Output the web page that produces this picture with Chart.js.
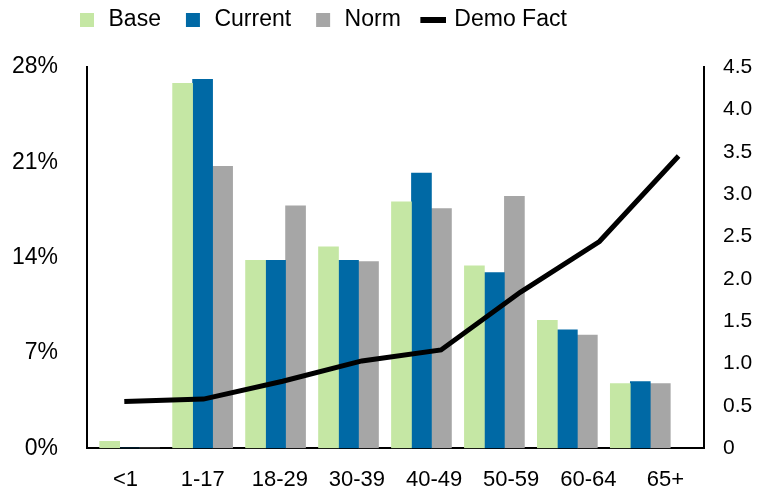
<!DOCTYPE html>
<html>
<head>
<meta charset="utf-8">
<script src="https://cdn.jsdelivr.net/npm/chart.js@4.4.1/dist/chart.umd.min.js"></script>
<style>
  html, body { margin: 0; padding: 0; background: #fff; }
</style>
</head>
<body>
<canvas id="demo_chart" width="759" height="491"></canvas>
<script>
// values
var age_groups  = ["<1", "1-17", "18-29", "30-39", "40-49", "50-59", "60-64", "65+"];
var base_pct    = [0.5, 26.8, 13.8, 14.8, 18.1, 13.4, 9.4, 4.75];
var current_pct = [0, 27.1, 13.8, 13.8, 20.2, 12.9, 8.7, 4.9];
var norm_pct    = [0, 20.7, 17.8, 13.7, 17.6, 18.5, 8.3, 4.75];
var demo_fact   = [0.55, 0.58, 0.79, 1.03, 1.16, 1.84, 2.44, 3.45];
var pct_ticks   = [0, 7, 14, 21, 28];
var fact_ticks  = [0, 0.5, 1, 1.5, 2, 2.5, 3, 3.5, 4, 4.5];

var colors = { base: "#C5E7A4", current: "#0069A5", norm: "#A6A6A6", fact: "#000000" };

function points(arr){
  return arr.map(function(v, i){ return { x: i, y: v }; });
}

// little legend icons: square for bars, thick dash for the line
function legend_icon(color, kind){
  var c = document.createElement("canvas");
  var g;
  if (kind == "bar") {
    c.width = 30; c.height = 14;
    g = c.getContext("2d");
    g.fillStyle = color;
    g.fillRect(13, 0, 14, 14);
  } else {
    c.width = 37; c.height = 14;
    g = c.getContext("2d");
    g.fillStyle = color;
    g.fillRect(11, 4, 26, 6);
  }
  return c;
}
var icons = [
  legend_icon(colors.base, "bar"),
  legend_icon(colors.current, "bar"),
  legend_icon(colors.norm, "bar"),
  legend_icon(colors.fact, "line")
];

var legend_tweak = {
  id: "legend_tweak",
  beforeLayout: function(chart){
    var lg = chart.legend;
    if (lg && !lg._tweaked) {
      var fit = lg.fit;
      lg.fit = function(){ fit.call(this); this.height = 67; };
      lg._tweaked = true;
    }
  },
  afterLayout: function(chart){
    var lg = chart.legend;
    lg.left = 55;
    lg.top = 20 - 11.5 - 12;
    lg.bottom = lg.top + lg.height;
  }
};

Chart.defaults.font.family = "'Liberation Sans', Arial, sans-serif";
Chart.defaults.color = "#000";

var ctx = document.getElementById("demo_chart");
var chart = new Chart(ctx, {
  type: "bar",
  data: {
    labels: age_groups,
    datasets: [
      { label: "Base", data: points(base_pct), backgroundColor: colors.base, xAxisID: "xb", yAxisID: "y", order: 1,
        barThickness: 20, borderWidth: 0 },
      { label: "Current", data: points(current_pct), backgroundColor: colors.current, xAxisID: "xb", yAxisID: "y", order: 1,
        barThickness: 20, borderWidth: 0 },
      { label: "Norm", data: points(norm_pct), backgroundColor: colors.norm, xAxisID: "xb", yAxisID: "y", order: 1,
        barThickness: 20, borderWidth: 0 },
      { type: "line", label: "Demo Fact", data: points(demo_fact), borderColor: colors.fact, backgroundColor: colors.fact,
        borderWidth: 5, pointRadius: 0, fill: false, tension: 0, xAxisID: "xl", yAxisID: "y2", order: 0 }
    ]
  },
  options: {
    responsive: false,
    animation: false,
    devicePixelRatio: 1,
    layout: { padding: { left: 0, right: 0, top: 0, bottom: 0 } },
    plugins: {
      tooltip: { enabled: false },
      legend: {
        display: true,
        position: "top",
        align: "start",
        labels: {
          usePointStyle: true,
          pointStyleWidth: 30,
          padding: 12,
          color: "#000",
          font: { size: 23 },
          generateLabels: function(chart){
            return chart.data.datasets.map(function(ds, i){
              return { text: ds.label, pointStyle: icons[i], datasetIndex: i, hidden: false,
                       fillStyle: colors.fact, strokeStyle: colors.fact, lineWidth: 0 };
            });
          }
        }
      }
    },
    scales: {
      x: {
        type: "category",
        offset: true,
        grid: { display: false, drawTicks: false },
        border: { display: true, color: "#000", width: 2 },
        ticks: { color: "#000", font: { size: 22 }, padding: 19, maxRotation: 0, autoSkip: false },
        afterFit: function(s){ s.height = 41; }
      },
      // bar groups sit a bit tighter than the labels; the line a bit wider.
      // chart.js counts the line's x axis as a second bar axis, so the bar group
      // is laid out left of its value - the range below allows for that
      xb: { type: "linear", display: false, offset: false, min: -0.996, max: 7.462,
            grid: { offset: false }, ticks: { stepSize: 1, includeBounds: false } },
      xl: { type: "linear", display: false, offset: false, min: -0.471, max: 7.321,
            grid: { offset: false }, ticks: { stepSize: 1, includeBounds: false } },
      y: {
        position: "left",
        min: 0, max: 28,
        grid: { display: false, drawTicks: false },
        border: { display: true, color: "#000", width: 2 },
        afterBuildTicks: function(s){ s.ticks = pct_ticks.map(function(v){ return { value: v }; }); },
        ticks: { color: "#000", font: { size: 23 }, padding: 29, callback: function(v){ return v + "%"; } },
        afterFit: function(s){ s.width = 87; }
      },
      y2: {
        position: "right",
        min: 0, max: 4.5,
        grid: { display: false, drawTicks: false },
        border: { display: true, color: "#000", width: 2 },
        afterBuildTicks: function(s){ s.ticks = fact_ticks.map(function(v){ return { value: v }; }); },
        ticks: { color: "#000", font: { size: 21 }, padding: 19, callback: function(v){ return v === 0 ? "0" : v.toFixed(1); } },
        afterFit: function(s){ s.width = 55; }
      }
    }
  },
  plugins: [legend_tweak]
});
</script>
</body>
</html>
